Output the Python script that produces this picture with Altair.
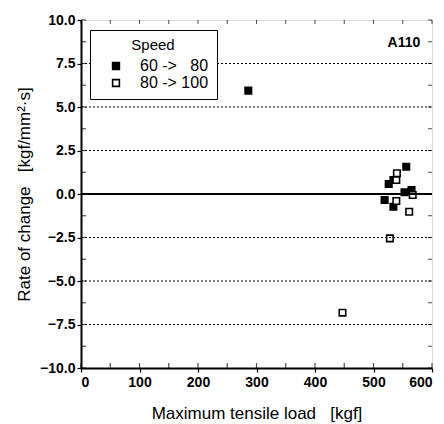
import altair as alt
import pandas as pd

NB = "\u00a0"
speed_names = ["60 ->" + NB * 3 + "80", "80 -> 100"]

load_6080 = [286, 556, 526, 534, 553, 565, 519, 534]
rate_6080 = [5.94, 1.57, 0.57, 0.80, 0.10, 0.23, -0.34, -0.73]

load_80100 = [540, 539, 567, 539, 561, 528, 447]
rate_80100 = [1.19, 0.80, -0.06, -0.40, -1.02, -2.55, -6.82]

grid_values = [-7.5, -5.0, -2.5, 2.5, 5.0, 7.5]
zero_value = [0.0]
x_major = [0, 100, 200, 300, 400, 500, 600]
x_ticks = [0, 50, 100, 150, 200, 250, 300, 350, 400, 450, 500, 550, 600]
y_major = [-10.0, -7.5, -5.0, -2.5, 0.0, 2.5, 5.0, 7.5, 10.0]
y_ticks = [-10.0 + 1.25 * i for i in range(17)]

note_text = ["A110"]
note_x = [580]
note_y = [8.7]

W, H = 351, 348

pts = pd.DataFrame({
    "load": load_6080 + load_80100,
    "rate": rate_6080 + rate_80100,
    "speed": [speed_names[0]] * len(load_6080) + [speed_names[1]] * len(load_80100),
})
grid_df = pd.DataFrame({"y": grid_values})
zero_df = pd.DataFrame({"y": zero_value})
note_df = pd.DataFrame({"t": note_text, "x": note_x, "y": note_y})
xt_df = pd.DataFrame({"x": x_ticks})
yt_df = pd.DataFrame({"y": y_ticks})

FONT = "Liberation Sans"
xs = alt.Scale(domain=[0, 600], nice=False, zero=False)
ys = alt.Scale(domain=[-10, 10], nice=False, zero=False)

x_axis_main = alt.Axis(
    values=x_major, title="Maximum tensile load" + NB * 3 + "[kgf]",
    grid=False, tickSize=4, tickColor="black", tickWidth=1.2,
    domainColor="black", domainWidth=2,
    labelFont=FONT, labelFontSize=14, labelFontWeight="bold", labelColor="black",
    titleFont=FONT, titleFontSize=17, titleFontWeight="normal", titleColor="black",
    labelPadding=3, titlePadding=16,
)
y_axis_main = alt.Axis(
    values=y_major, format=".1f",
    title="Rate of change" + NB * 3 + "[kgf/mm²·s]",
    grid=False, tickSize=4, tickColor="black", tickWidth=1.2,
    domainColor="black", domainWidth=2,
    labelFont=FONT, labelFontSize=14, labelFontWeight="bold", labelColor="black",
    titleFont=FONT, titleFontSize=17, titleFontWeight="normal", titleColor="black",
    labelPadding=2, titlePadding=6,
)

points = alt.Chart(pts).mark_point(shape="square", size=42, strokeWidth=1.6, opacity=1).encode(
    x=alt.X("load:Q", scale=xs, axis=x_axis_main),
    y=alt.Y("rate:Q", scale=ys, axis=y_axis_main),
    fill=alt.Fill("speed:N", scale=alt.Scale(domain=speed_names, range=["black", "white"]),
                  legend=alt.Legend(
                      title="Speed", orient="none", legendX=9, legendY=10,
                      titleFont=FONT, titleFontSize=15, titleFontWeight="normal",
                      titleColor="black", titleAnchor="middle", titleAlign="center",
                      titlePadding=5,
                      labelFont=FONT, labelFontSize=16, labelColor="black",
                      symbolType="square", symbolSize=46, symbolStrokeColor="black",
                      symbolStrokeWidth=1.6, strokeColor="black", padding=8,
                      rowPadding=1, labelOffset=16, symbolOffset=10,
                      fillColor="white", cornerRadius=0, offset=0,
                  )),
    stroke=alt.value("black"),
)

grid = alt.Chart(grid_df).mark_rule(color="black", strokeDash=[2, 2], strokeWidth=1).encode(
    y=alt.Y("y:Q", scale=ys),
    x=alt.value(0), x2=alt.value(W),
)

zero = alt.Chart(zero_df).mark_rule(color="black", strokeWidth=2).encode(
    y=alt.Y("y:Q", scale=ys),
    x=alt.value(0), x2=alt.value(W),
)

# inward tick decorations on the frame
tick_bottom = alt.Chart(xt_df).mark_tick(orient="vertical", size=5, thickness=1.2, color="black").encode(
    x=alt.X("x:Q", scale=xs), y=alt.value(H - 2.5))
tick_top = alt.Chart(xt_df).mark_tick(orient="vertical", size=4, thickness=1, color="black").encode(
    x=alt.X("x:Q", scale=xs), y=alt.value(2))
tick_left = alt.Chart(yt_df).mark_tick(orient="horizontal", size=5, thickness=1.2, color="black").encode(
    y=alt.Y("y:Q", scale=ys), x=alt.value(2.5))
tick_right = alt.Chart(yt_df).mark_tick(orient="horizontal", size=4, thickness=1, color="black").encode(
    y=alt.Y("y:Q", scale=ys), x=alt.value(W - 2))

note = alt.Chart(note_df).mark_text(font=FONT, fontSize=14, fontWeight="bold",
                                    color="black", align="right", baseline="middle").encode(
    x=alt.X("x:Q", scale=xs),
    y=alt.Y("y:Q", scale=ys),
    text="t:N",
)

chart = alt.layer(points, grid, zero, tick_bottom, tick_top, tick_left, tick_right, note).properties(
    width=W, height=H,
    autosize=alt.AutoSizeParams(type="none"),
    padding={"left": 73, "top": 12, "right": 4, "bottom": 56},
).configure_view(stroke="black", strokeWidth=2).configure(background="white")

chart.save("out.html", embed_options={"renderer": "svg", "actions": False})
